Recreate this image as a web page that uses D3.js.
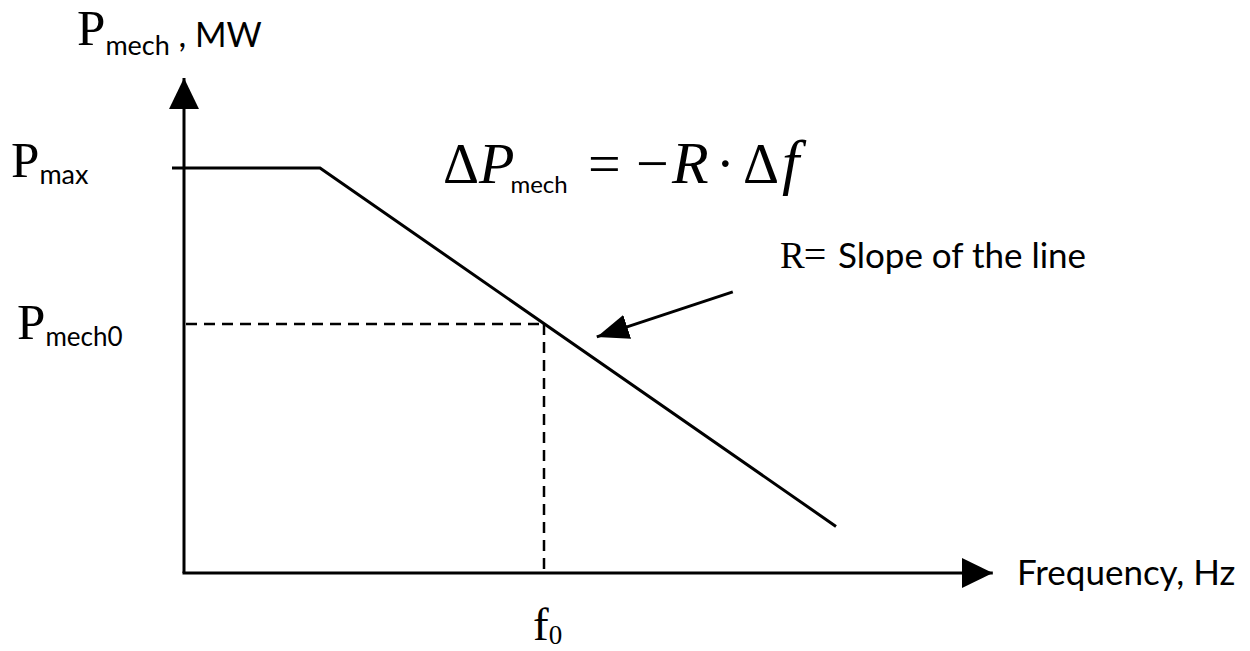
<!DOCTYPE html>
<html>
<head>
<meta charset="utf-8">
<script src="https://cdn.jsdelivr.net/npm/d3@7"></script>
<style>
  html, body { margin: 0; padding: 0; background: #fff; }
  svg { display: block; }
</style>
</head>
<body>
<svg id="chart" width="1250" height="651"></svg>
<script>
// ---------------- data ----------------
// Governor droop characteristic (abstract units: frequency 0..100, power 0..100 = Pmax)
const curveF = [-1.5, 17, 81.5];
const curveP = [100, 100, 11.5];
const f0 = 45;
const pMax = 100;
const pMech0 = 61.5;
const axisMaxF = 101.1;
const axisMaxP = 122.2;
// annotation arrow (tail -> head) in data units
const noteArrowF = [68.6, 51.6];
const noteArrowP = [69.4, 58.3];
// labels
const yLabelBase = "P", yLabelSub = "mech", yLabelUnit = " , MW";
const xLabel = "Frequency, Hz";
const yTickLabels = [{ base: "P", sub: "max", value: pMax }, { base: "P", sub: "mech0", value: pMech0 }];
const xTickLabels = [{ base: "f", sub: "0", value: f0 }];
const noteText = "Slope of the line";

// ---------------- drawing ----------------
const svg = d3.select("#chart");
const x = d3.scaleLinear().domain([0, 100]).range([184, 984]);
const y = d3.scaleLinear().domain([0, 100]).range([573, 168]);

const serif = "'Liberation Serif', 'Times New Roman', serif";
const sans = "Lato, 'Open Sans', sans-serif";

const defs = svg.append("defs");
function marker(id, w, h) {
  defs.append("marker").attr("id", id)
    .attr("viewBox", `0 0 ${w} ${h}`).attr("refX", w).attr("refY", h / 2)
    .attr("markerUnits", "userSpaceOnUse")
    .attr("markerWidth", w).attr("markerHeight", h)
    .attr("orient", "auto")
    .append("path").attr("d", `M0,0L${w},${h / 2}L0,${h}Z`).attr("fill", "#000");
}
marker("axisHead", 31, 30);
marker("noteHead", 32, 25);

// axes
svg.append("line")
  .attr("x1", x(0)).attr("y1", y(0)).attr("x2", x(0)).attr("y2", y(axisMaxP))
  .attr("stroke", "#000").attr("stroke-width", 3).attr("marker-end", "url(#axisHead)");
svg.append("line")
  .attr("x1", x(0) - 1.5).attr("y1", y(0)).attr("x2", x(axisMaxF)).attr("y2", y(0))
  .attr("stroke", "#000").attr("stroke-width", 3).attr("marker-end", "url(#axisHead)");

// dashed guides
const dash = "11,7";
svg.append("line")
  .attr("x1", x(0) + 2).attr("y1", y(pMech0)).attr("x2", x(f0)).attr("y2", y(pMech0))
  .attr("stroke", "#000").attr("stroke-width", 2.5).attr("stroke-dasharray", dash);
svg.append("line")
  .attr("x1", x(f0)).attr("y1", y(pMech0)).attr("x2", x(f0)).attr("y2", y(0))
  .attr("stroke", "#000").attr("stroke-width", 2.5).attr("stroke-dasharray", dash);

// characteristic
const pts = curveF.map((f, i) => [x(f), y(curveP[i])]);
svg.append("path")
  .attr("d", d3.line()(pts))
  .attr("fill", "none").attr("stroke", "#000").attr("stroke-width", 3)
  .attr("stroke-linejoin", "miter");

// annotation arrow
svg.append("line")
  .attr("x1", x(noteArrowF[0])).attr("y1", y(noteArrowP[0]))
  .attr("x2", x(noteArrowF[1])).attr("y2", y(noteArrowP[1]))
  .attr("stroke", "#000").attr("stroke-width", 3).attr("marker-end", "url(#noteHead)");

// y axis title
const yt = svg.append("text").attr("x", 77).attr("y", 45).attr("fill", "#000");
yt.append("tspan").attr("font-family", serif).attr("font-size", 51).text(yLabelBase);
yt.append("tspan").attr("font-family", sans).attr("font-size", 27).attr("dy", 10).text(yLabelSub);
yt.append("tspan").attr("font-family", sans).attr("font-size", 34).attr("dy", -8).attr("xml:space", "preserve").text(yLabelUnit);

// y tick labels
yTickLabels.forEach((d, i) => {
  const t = svg.append("text").attr("x", i === 0 ? 11 : 17).attr("y", y(d.value) + (i === 0 ? 9 : 15)).attr("fill", "#000");
  t.append("tspan").attr("font-family", serif).attr("font-size", 51).text(d.base);
  t.append("tspan").attr("font-family", sans).attr("font-size", i === 0 ? 27 : 26).attr("dy", 7).text(d.sub);
});

// x tick labels
xTickLabels.forEach(d => {
  const t = svg.append("text").attr("x", x(d.value) - 11).attr("y", 640).attr("fill", "#000");
  t.append("tspan").attr("font-family", serif).attr("font-size", 47).text(d.base);
  t.append("tspan").attr("font-family", serif).attr("font-size", 27).attr("dy", 4).text(d.sub);
});

// x axis title
svg.append("text").attr("x", 1017).attr("y", 585)
  .attr("font-family", sans).attr("font-size", 35).attr("fill", "#000").text(xLabel);

// equation
const eq = svg.append("text").attr("x", 443).attr("y", 183).attr("fill", "#000");
eq.append("tspan").attr("font-family", serif).attr("font-size", 56).text("Δ");
eq.append("tspan").attr("font-family", serif).attr("font-style", "italic").attr("font-size", 58).text("P");
eq.append("tspan").attr("font-family", sans).attr("font-size", 24).attr("dx", -4).attr("dy", 10).text("mech");
eq.append("tspan").attr("font-family", serif).attr("font-size", 58).attr("dy", -10).attr("x", 588).text("=");
eq.append("tspan").attr("font-family", serif).attr("font-size", 58).attr("x", 636).text("−");
eq.append("tspan").attr("font-family", serif).attr("font-style", "italic").attr("font-size", 60).attr("x", 672).text("R");
eq.append("tspan").attr("font-family", serif).attr("font-size", 56).attr("x", 716).text("·");
eq.append("tspan").attr("font-family", serif).attr("font-size", 56).attr("x", 743).text("Δ");
eq.append("tspan").attr("font-family", serif).attr("font-style", "italic").attr("font-size", 62).attr("dx", 3).text("f");

// slope note
const nt = svg.append("text").attr("x", 780).attr("y", 268).attr("fill", "#000");
nt.append("tspan").attr("font-family", serif).attr("font-size", 37).text("R");
nt.append("tspan").attr("font-family", serif).attr("font-size", 40).attr("dx", -1).text("=");
nt.append("tspan").attr("font-family", sans).attr("font-size", 35).attr("x", 838).text(noteText);
</script>
</body>
</html>
